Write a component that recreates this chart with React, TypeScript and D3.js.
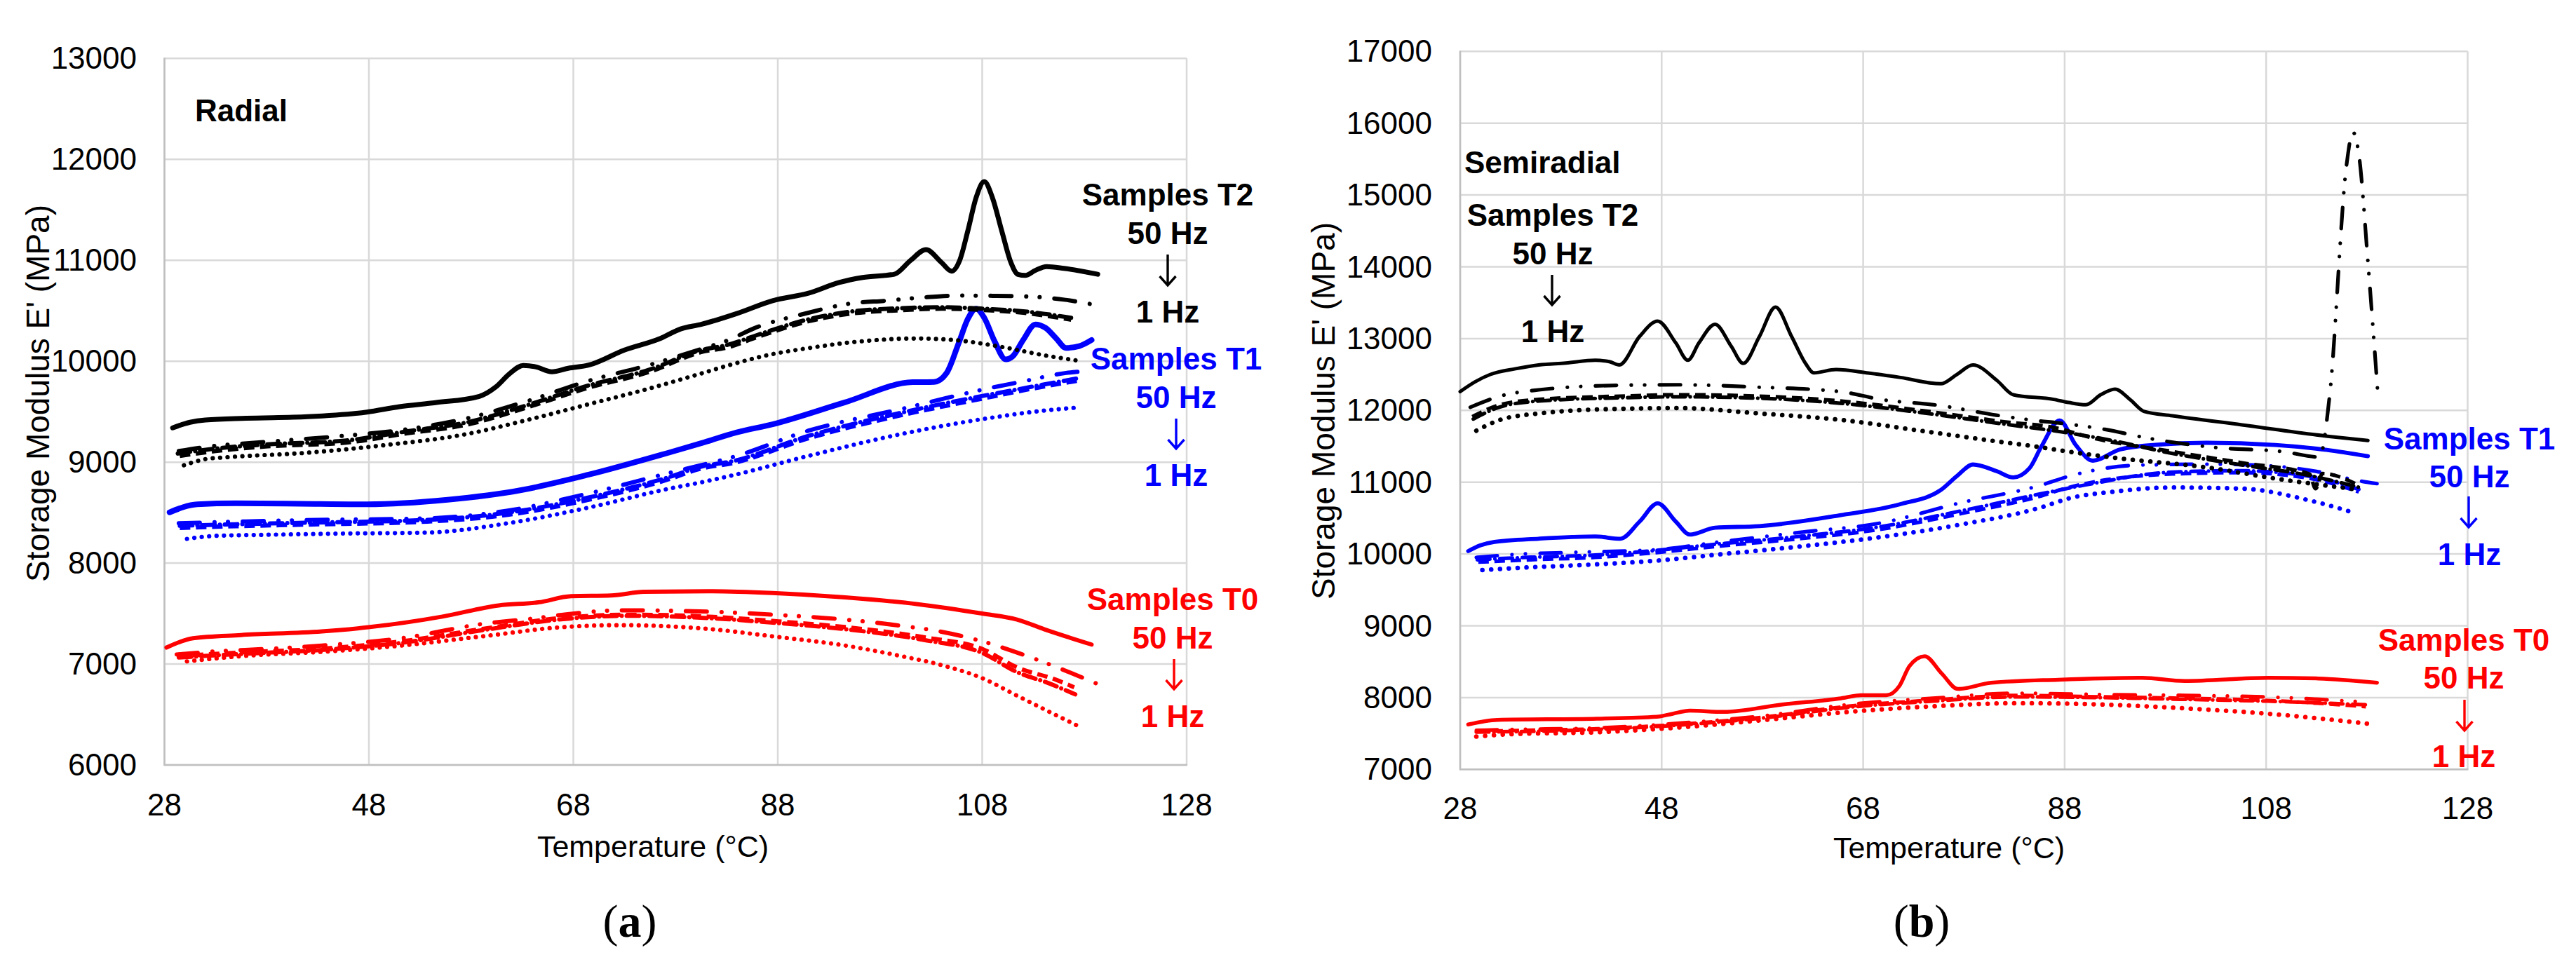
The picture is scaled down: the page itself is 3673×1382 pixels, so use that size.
import React from "react";
import * as d3 from "d3";

type Pt = [number, number];

// ---------- axes ----------
const tempTicks = [28, 48, 68, 88, 108, 128];
const radialTicks = [6000, 7000, 8000, 9000, 10000, 11000, 12000, 13000];
const semiradialTicks = [7000, 8000, 9000, 10000, 11000, 12000, 13000, 14000, 15000, 16000, 17000];

// ---------- (a) Radial : samples T2 (black) ----------
const radialT2_50: Pt[] = [[28.8,9340],[30.5,9395],[32,9418],[36,9435],[42,9450],[47.8,9496],[51,9550],[54.5,9590],[58.8,9652],[60.4,9744],[61.8,9880],[63.1,9958],[64.3,9945],[65.9,9896],[67.5,9930],[69.5,9962],[73,10110],[76.5,10225],[78.5,10320],[80.5,10365],[84,10473],[87.5,10600],[91,10674],[94,10780],[96.3,10830],[99.4,10862],[101,11000],[102.5,11106],[104,10980],[105,10892],[105.8,11000],[106.6,11295],[107.4,11620],[108.2,11779],[109,11620],[109.9,11295],[110.8,10980],[111.5,10860],[112.2,10850],[113.2,10900],[114.3,10938],[116,10920],[119.3,10862]];
const radialT2_b: Pt[] = [[29.4,9110],[32,9150],[37.9,9200],[44.2,9249],[51.7,9326],[57.6,9434],[63.5,9605],[69.5,9806],[75.4,9962],[80.5,10120],[83.2,10210],[85.7,10327],[90.6,10470],[95,10570],[98.7,10600],[102,10630],[105.6,10650],[109,10648],[112.7,10640],[116,10610],[119.7,10545]];
const radialT2_c: Pt[] = [[29.5,9062],[33,9110],[37.9,9155],[45.8,9194],[51.7,9285],[57.6,9372],[63.5,9543],[69.5,9738],[75.4,9893],[80.5,10090],[83.2,10140],[86,10240],[91,10396],[95,10470],[100,10505],[104,10520],[108.2,10507],[112,10480],[116.7,10411]];
const radialT2_d: Pt[] = [[29.3,9085],[33,9135],[37.9,9175],[45.8,9215],[51.7,9305],[57.6,9395],[63.5,9565],[69.5,9760],[75.4,9915],[80.5,10110],[83.2,10165],[86,10260],[91,10415],[95,10490],[100,10525],[104,10535],[108.2,10520],[112,10495],[116.7,10430]];
const radialT2_1: Pt[] = [[29.9,8969],[32,9030],[34,9048],[41.9,9093],[49.7,9170],[57.6,9279],[63.5,9418],[69.5,9574],[75.4,9729],[80.5,9878],[83.2,9960],[87,10060],[91,10130],[95,10185],[101.5,10225],[105,10212],[110,10140],[114,10060],[117.3,10007]];

// ---------- (a) Radial : samples T1 (blue) ----------
const radialT1_50: Pt[] = [[28.5,8503],[31.2,8582],[35,8592],[39.9,8590],[47.8,8582],[55.7,8627],[62.8,8721],[69.5,8876],[77.3,9093],[80.5,9187],[84,9295],[87.5,9375],[94.5,9590],[101.2,9792],[103.3,9795],[104.5,9880],[105.7,10180],[106.6,10420],[107.4,10521],[108.2,10430],[109.2,10200],[110.3,10018],[111,10050],[112,10210],[113.2,10365],[114.2,10330],[115.2,10230],[116.2,10132],[117.5,10150],[118.7,10210]];
const radialT1_b: Pt[] = [[29.4,8395],[35,8410],[41.9,8426],[53.7,8443],[61.6,8520],[69.5,8690],[77.3,8891],[80.5,8970],[83.6,9050],[91,9312],[100.1,9527],[108.5,9729],[112,9800],[116.2,9884],[117.8,9900]];
const radialT1_c: Pt[] = [[29.5,8348],[35,8365],[41.9,8381],[53.7,8411],[61.6,8478],[69.5,8627],[77.3,8829],[80.5,8937],[83.6,8990],[91,9236],[100.1,9465],[108.5,9639],[113,9730],[117.3,9806]];
const radialT1_d: Pt[] = [[29.5,8370],[35,8385],[41.9,8400],[53.7,8428],[61.6,8500],[69.5,8650],[77.3,8850],[80.5,8955],[83.6,9010],[91,9260],[100.1,9490],[108.5,9665],[113,9750],[117.3,9830]];
const radialT1_1: Pt[] = [[30.2,8240],[33,8270],[37.9,8280],[45.8,8293],[53.7,8302],[61.6,8395],[69.5,8550],[77.3,8736],[80.5,8800],[83.6,8870],[91,9062],[100.1,9279],[108.5,9434],[114,9510],[117.6,9543]];

// ---------- (a) Radial : samples T0 (red) ----------
const radialT0_50: Pt[] = [[28.2,7163],[30.8,7256],[35.5,7287],[43.4,7323],[48.1,7366],[55.2,7470],[60.7,7581],[64.6,7611],[67.8,7672],[71.7,7679],[74.9,7715],[81.2,7721],[87.5,7703],[94.6,7660],[101.7,7593],[108,7500],[111.4,7441],[114.3,7336],[118.7,7193]];
const radialT0_b: Pt[] = [[29.2,7095],[33,7125],[38,7150],[43.4,7183],[51.2,7256],[59.1,7397],[64,7450],[67,7489],[72.5,7532],[81.2,7519],[87.5,7489],[94.6,7440],[100,7380],[104,7320],[108,7225],[112,7093],[116,6940],[119.8,6780]];
const radialT0_c: Pt[] = [[29.2,7078],[35.5,7115],[43.4,7152],[51.2,7225],[59.1,7348],[67,7458],[73.3,7489],[81.2,7470],[87.5,7427],[94.6,7366],[102.5,7262],[108,7150],[111.4,6967],[115.2,6845],[117,6770]];
const radialT0_d: Pt[] = [[29.4,7065],[35.5,7100],[43.4,7140],[51.2,7210],[59.1,7335],[67,7445],[73.3,7478],[81.2,7455],[87.5,7410],[94.6,7345],[102.5,7235],[108,7110],[111.4,6920],[114.5,6810],[117.1,6699]];
const radialT0_1: Pt[] = [[30.2,7026],[35.5,7078],[43.4,7121],[51.2,7183],[59.1,7274],[67,7366],[72.5,7385],[81.2,7348],[87.5,7274],[94.6,7183],[100,7080],[104,6990],[108,6860],[111.4,6687],[114.5,6530],[117.7,6370]];

// ---------- (b) Semiradial : samples T2 (black) ----------
const semiT2_50: Pt[] = [[28,12262],[29.5,12400],[31,12501],[33.5,12580],[35.8,12633],[38.5,12660],[41.4,12698],[42.8,12680],[43.8,12633],[45.8,13028],[47.6,13243],[49.4,12940],[50.6,12698],[51.7,12940],[53.3,13199],[54.9,12894],[56.1,12654],[57.7,13028],[59.3,13439],[60.9,13028],[62.3,12650],[63.1,12523],[65.3,12569],[68.5,12520],[71.7,12458],[75.7,12371],[77.3,12500],[78.9,12633],[81.3,12414],[82.9,12218],[86.9,12153],[88.4,12110],[90.1,12078],[91.6,12220],[93,12296],[94.5,12150],[95.9,11985],[98.7,11925],[105.6,11798],[114.1,11640],[118.1,11580]];
const semiT2_b: Pt[] = [[29,12044],[32,12200],[35.8,12286],[43.8,12350],[49.7,12357],[56.9,12327],[65.7,12262],[69.7,12153],[75.7,12066],[81.2,11934],[85,11860],[87.7,11820],[92,11735],[96.3,11612],[103.2,11480],[109.6,11427],[113.3,11350],[114.3,12203],[116,15441],[116.6,15877],[117.2,15568],[118.1,14073],[119.1,12203]];
const semiT2_c: Pt[] = [[29.2,11913],[32,12080],[35.8,12153],[43.8,12198],[49.7,12218],[57.7,12198],[65.7,12131],[73.7,12000],[81.7,11847],[87.7,11739],[90.1,11640],[98.7,11427],[105.6,11270],[112.3,11114],[112.9,10910],[113.6,11120],[117.2,10957]];
const semiT2_d: Pt[] = [[29.3,11880],[32,12050],[35.8,12130],[43.8,12175],[49.7,12190],[57.7,12170],[65.7,12100],[73.7,11970],[81.7,11815],[87.7,11700],[92,11600],[98.7,11400],[105.6,11240],[112.4,11090],[117.2,10930]];
const semiT2_1: Pt[] = [[29.6,11717],[32,11870],[35.8,11957],[43.8,12022],[49.7,12032],[57.7,11957],[65.7,11869],[73.7,11717],[81.7,11560],[85,11500],[87.7,11440],[93.5,11331],[102.1,11206],[108.9,11051],[117.2,10895]];

// ---------- (b) Semiradial : samples T1 (blue) ----------
const semiT1_50: Pt[] = [[28.8,10040],[30,10120],[31.4,10169],[35.8,10213],[41.4,10243],[43.9,10213],[45.8,10450],[47.6,10705],[49.4,10452],[50.8,10270],[53.3,10365],[57.7,10388],[65.7,10540],[71.7,10694],[75.7,10890],[77.3,11085],[78.9,11246],[81.3,11150],[82.9,11066],[84.5,11193],[85.7,11499],[87.5,11860],[89.1,11518],[90.8,11300],[93.5,11456],[97,11520],[102.1,11549],[108.9,11518],[114,11450],[118.1,11362]];
const semiT1_b: Pt[] = [[29.6,9952],[33,9990],[39.8,10025],[47.5,10060],[53.8,10169],[61.7,10300],[69.7,10431],[77.7,10714],[85.7,10960],[88.4,11082],[95.3,11237],[102.8,11251],[108.9,11222],[113,11150],[117.2,11020],[119,10980]];
const semiT1_c: Pt[] = [[29.8,9886],[35,9920],[41.4,9952],[47.5,10020],[53.3,10104],[61.7,10213],[69.7,10343],[77.7,10562],[85.7,10810],[88.4,10926],[98.7,11114],[105.6,11133],[112.4,11051],[117.2,10864]];
const semiT1_d: Pt[] = [[29.7,9920],[35,9955],[41.4,9985],[47.5,10050],[53.3,10135],[61.7,10245],[69.7,10380],[77.7,10600],[85.7,10840],[90,10960],[98.7,11140],[105.6,11160],[112.4,11080],[117.2,10900]];
const semiT1_1: Pt[] = [[30.2,9776],[35,9815],[39.8,9844],[47.5,9907],[53.8,9995],[61.7,10104],[69.7,10235],[77.7,10411],[85.7,10650],[88.4,10773],[93,10870],[98.7,10926],[105.6,10910],[112.4,10743],[116.8,10571]];

// ---------- (b) Semiradial : samples T0 (red) ----------
const semiT0_50: Pt[] = [[28.8,7625],[31.7,7689],[41.6,7706],[47.5,7732],[49.1,7775],[50.8,7818],[54.1,7801],[60,7904],[65.8,7990],[67.8,8033],[70.3,8033],[71.6,8163],[72.6,8440],[74.1,8576],[75.8,8335],[77.4,8120],[80.7,8206],[87.4,8249],[95.7,8275],[99.9,8232],[108.2,8275],[113.2,8266],[119,8206]];
const semiT0_b: Pt[] = [[29.6,7543],[33,7555],[41.6,7577],[50,7646],[58.3,7749],[66.6,7904],[74.9,7990],[83.2,8060],[91.8,8042],[100,8030],[108.2,8008],[117.9,7937]];
const semiT0_c: Pt[] = [[29.6,7530],[33,7540],[41.6,7565],[50,7630],[58.3,7730],[66.6,7880],[74.9,7965],[83.2,8030],[91.6,8010],[99.9,7990],[108.2,7960],[117.9,7874]];
const semiT0_d: Pt[] = [[29.6,7520],[41.6,7555],[50,7620],[58.3,7720],[66.6,7865],[74.9,7950],[83.2,8010],[91.6,8000],[99.9,7975],[108.2,7950],[117.9,7900]];
const semiT0_1: Pt[] = [[29.6,7457],[33,7490],[41.6,7517],[50,7586],[58.3,7689],[66.6,7801],[74.9,7878],[83.2,7922],[91.6,7904],[99.9,7850],[108.2,7775],[118.6,7629]];

// ---------- styling (not data) ----------
const COLORS = { T2: "#000000", T1: "#0000FF", T0: "#FF0000" };
const FONT = "'Liberation Sans', Arial, Helvetica, sans-serif";
const SERIF = "'Liberation Serif', 'Times New Roman', serif";

type Style = { dash?: string; cap: "round" | "butt"; };
function styleFor(idx: number, panel: "a" | "b"): Style {
  if (idx === 0) return { cap: "round" };
  if (idx === 1) return { dash: "30 21 0.1 19 0.1 21", cap: "round" };
  if (idx === 2) return { dash: "15 8", cap: "butt" };
  if (idx === 3) return { dash: "18 7 0.1 7", cap: "round" };
  return { dash: panel === "a" ? "0.1 10.5" : "0.1 12.5", cap: "round" };
}

type Group = { key: "T0" | "T1" | "T2"; series: Pt[][]; solidWidth: number };

type PanelCfg = {
  id: "a" | "b";
  left: number; right: number; top: number; bottom: number;
  yDomain: [number, number];
  yTicks: number[];
  groups: Group[];
  otherWidth: number;
  dotWidth: number;
  yLabelRight: number;
  xLabelBaseline: number;
  yTitleX: number; yTitleY: number;
  xTitleX: number; xTitleY: number;
  capX: number; capY: number; capLetter: string;
};

const panelA: PanelCfg = {
  id: "a", left: 234.5, right: 1692, top: 83.3, bottom: 1091,
  yDomain: [6000, 13000], yTicks: radialTicks,
  groups: [
    { key: "T0", series: [radialT0_50, radialT0_b, radialT0_c, radialT0_d, radialT0_1], solidWidth: 6 },
    { key: "T1", series: [radialT1_50, radialT1_b, radialT1_c, radialT1_d, radialT1_1], solidWidth: 8 },
    { key: "T2", series: [radialT2_50, radialT2_b, radialT2_c, radialT2_d, radialT2_1], solidWidth: 7 },
  ],
  otherWidth: 6, dotWidth: 6.2,
  yLabelRight: 195, xLabelBaseline: 1163,
  yTitleX: 70, yTitleY: 561,
  xTitleX: 931, xTitleY: 1222,
  capX: 898, capY: 1336, capLetter: "a",
};

const panelB: PanelCfg = {
  id: "b", left: 2082, right: 3518.5, top: 73.3, bottom: 1097.3,
  yDomain: [7000, 17000], yTicks: semiradialTicks,
  groups: [
    { key: "T0", series: [semiT0_50, semiT0_b, semiT0_c, semiT0_d, semiT0_1], solidWidth: 5.5 },
    { key: "T1", series: [semiT1_50, semiT1_b, semiT1_c, semiT1_d, semiT1_1], solidWidth: 5.8 },
    { key: "T2", series: [semiT2_50, semiT2_b, semiT2_c, semiT2_d, semiT2_1], solidWidth: 5 },
  ],
  otherWidth: 5.2, dotWidth: 6.5,
  yLabelRight: 2042, xLabelBaseline: 1168,
  yTitleX: 1903, yTitleY: 586,
  xTitleX: 2779, xTitleY: 1224,
  capX: 2740, capY: 1336, capLetter: "b",
};

function Arrow({ x, y1, y2, color }: { x: number; y1: number; y2: number; color: string }) {
  return (
    <path
      d={`M${x},${y1} L${x},${y2 - 1} M${x - 11.5},${y2 - 13} L${x},${y2} L${x + 11.5},${y2 - 13}`}
      fill="none" stroke={color} strokeWidth={3.4} strokeLinejoin="miter"
    />
  );
}

type Note = { color: string; x: number; lines: { t: string; y: number; dx?: number }[]; arrow: [number, number, number] };

function Annotation({ n }: { n: Note }) {
  return (
    <g fill={n.color} fontFamily={FONT} fontWeight="bold" fontSize={44} textAnchor="middle">
      {n.lines.map((l, i) => (
        <text key={i} x={n.x + (l.dx || 0)} y={l.y}>{l.t}</text>
      ))}
      <Arrow x={n.arrow[0]} y1={n.arrow[1]} y2={n.arrow[2]} color={n.color} />
    </g>
  );
}

const notes: Note[] = [
  { color: COLORS.T2, x: 1665, lines: [{ t: "Samples T2", y: 293 }, { t: "50 Hz", y: 348 }, { t: "1 Hz", y: 460 }], arrow: [1665, 363, 407] },
  { color: COLORS.T1, x: 1677, lines: [{ t: "Samples T1", y: 527 }, { t: "50 Hz", y: 582 }, { t: "1 Hz", y: 693 }], arrow: [1677, 597, 640] },
  { color: COLORS.T0, x: 1672, lines: [{ t: "Samples T0", y: 870 }, { t: "50 Hz", y: 925 }, { t: "1 Hz", y: 1037 }], arrow: [1674, 940, 983] },
  { color: COLORS.T2, x: 2214, lines: [{ t: "Samples T2", y: 322 }, { t: "50 Hz", y: 377 }, { t: "1 Hz", y: 488 }], arrow: [2213, 392, 435] },
  { color: COLORS.T1, x: 3521, lines: [{ t: "Samples T1", y: 641 }, { t: "50 Hz", y: 695 }, { t: "1 Hz", y: 806 }], arrow: [3520, 708, 752] },
  { color: COLORS.T0, x: 3513, lines: [{ t: "Samples T0", y: 928 }, { t: "50 Hz", y: 982 }, { t: "1 Hz", y: 1094 }], arrow: [3514, 998, 1042] },
];

function Panel({ cfg }: { cfg: PanelCfg }) {
  const x = d3.scaleLinear().domain([28, 128]).range([cfg.left, cfg.right]);
  const y = d3.scaleLinear().domain(cfg.yDomain).range([cfg.bottom, cfg.top]);
  const line = d3.line<Pt>().x((d) => x(d[0])).y((d) => y(d[1])).curve(d3.curveMonotoneX);

  return (
    <g>
      {/* gridlines */}
      {cfg.yTicks.map((t) => (
        <line key={"h" + t} x1={cfg.left} x2={cfg.right} y1={y(t)} y2={y(t)} stroke="#D9D9D9" strokeWidth={2.5} />
      ))}
      {tempTicks.map((t) => (
        <line key={"v" + t} x1={x(t)} x2={x(t)} y1={cfg.top} y2={cfg.bottom} stroke="#D9D9D9" strokeWidth={2.5} />
      ))}
      {/* axis lines */}
      <line x1={cfg.left} x2={cfg.left} y1={cfg.top - 1} y2={cfg.bottom + 1} stroke="#BFBFBF" strokeWidth={2.5} />
      <line x1={cfg.left - 1} x2={cfg.right + 1} y1={cfg.bottom} y2={cfg.bottom} stroke="#BFBFBF" strokeWidth={2.5} />

      {/* series */}
      {cfg.groups.map((g) => (
        <g key={g.key}>
          {g.series.map((s, i) => {
            const st = styleFor(i, cfg.id);
            const w = i === 0 ? g.solidWidth : i === 4 ? cfg.dotWidth : cfg.otherWidth;
            return (
              <path key={i} d={line(s) || ""} fill="none" stroke={COLORS[g.key]} strokeWidth={w}
                strokeDasharray={st.dash} strokeLinecap={st.cap} strokeLinejoin="round" />
            );
          }).reverse()}
        </g>
      ))}

      {/* tick labels */}
      <g fontFamily={FONT} fontSize={44} fill="#000">
        {cfg.yTicks.map((t) => (
          <text key={"yl" + t} x={cfg.yLabelRight} y={y(t) + 15} textAnchor="end">{t}</text>
        ))}
        {tempTicks.map((t) => (
          <text key={"xl" + t} x={x(t)} y={cfg.xLabelBaseline} textAnchor="middle">{t}</text>
        ))}
      </g>

      {/* axis titles */}
      <text x={cfg.xTitleX} y={cfg.xTitleY} fontFamily={FONT} fontSize={43} textAnchor="middle" fill="#000">
        Temperature (°C)
      </text>
      <text transform={`translate(${cfg.yTitleX},${cfg.yTitleY}) rotate(-90)`} fontFamily={FONT} fontSize={46}
        textAnchor="middle" fill="#000">
        Storage Modulus E' (MPa)
      </text>

      {/* caption */}
      <text x={cfg.capX} y={cfg.capY} fontFamily={SERIF} fontSize={66} textAnchor="middle" fill="#000">
        (<tspan fontWeight="bold">{cfg.capLetter}</tspan>)
      </text>
    </g>
  );
}

export default function App() {
  return (
    <svg width={3673} height={1382} viewBox="0 0 3673 1382"
      style={{ position: "absolute", left: 0, top: 0, display: "block", background: "#fff" }}>
      <rect x={0} y={0} width={3673} height={1382} fill="#fff" />
      <Panel cfg={panelA} />
      <Panel cfg={panelB} />
      <text x={278} y={173} fontFamily={FONT} fontWeight="bold" fontSize={44} fill="#000">Radial</text>
      <text x={2088} y={247} fontFamily={FONT} fontWeight="bold" fontSize={44} fill="#000">Semiradial</text>
      {notes.map((n, i) => <Annotation key={i} n={n} />)}
    </svg>
  );
}
